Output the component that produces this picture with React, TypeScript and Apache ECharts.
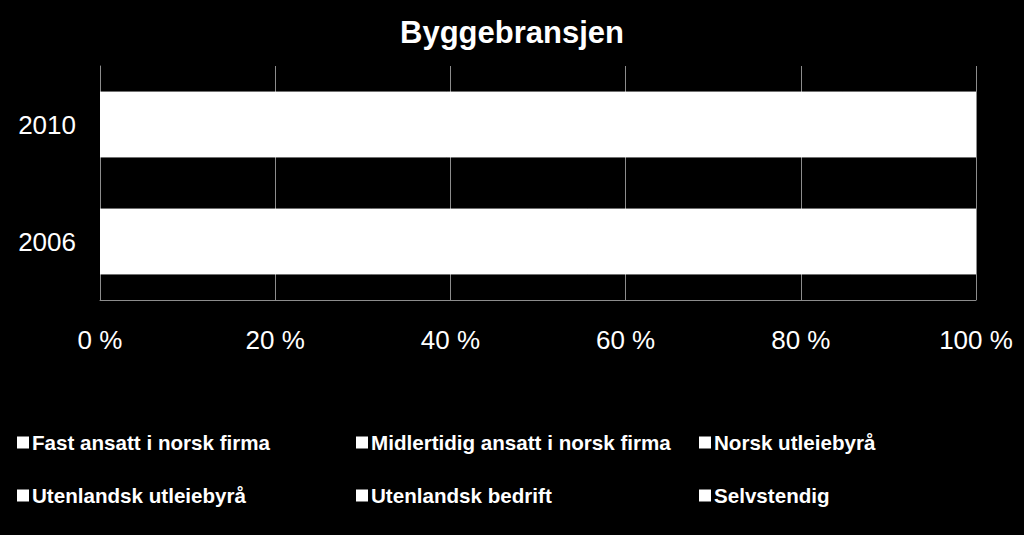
import React, { useEffect, useRef } from "react";
import * as echarts from "echarts";

const categories = ["2006", "2010"];
const seriesNames = [
  "Fast ansatt i norsk firma",
  "Midlertidig ansatt i norsk firma",
  "Norsk utleiebyrå",
  "Utenlandsk utleiebyrå",
  "Utenlandsk bedrift",
  "Selvstendig",
];
// values per series: [2006, 2010]
const fastAnsatt = [31.0, 39.6];
const midlertidig = [24.7, 20.2];
const norskUtleie = [20.0, 15.0];
const utenlandskUtleie = [10.0, 10.0];
const utenlandskBedrift = [9.0, 10.0];
const selvstendig = [5.3, 5.2];
const seriesValues = [fastAnsatt, midlertidig, norskUtleie, utenlandskUtleie, utenlandskBedrift, selvstendig];
const xTicks = { min: 0, max: 100, interval: 20 };

const legendPos = [
  { left: 17, top: 432 },
  { left: 356, top: 432 },
  { left: 699, top: 432 },
  { left: 17, top: 485 },
  { left: 356, top: 485 },
  { left: 699, top: 485 },
];

export default function App() {
  const ref = useRef<HTMLDivElement>(null);
  useEffect(() => {
    if (!ref.current) return;
    const chart = echarts.init(ref.current, undefined, { renderer: "svg" });
    const font = "'Liberation Sans', Arial, sans-serif";
    const totals = categories.map((_, ci) =>
      seriesValues.reduce((s, arr) => s + arr[ci], 0)
    );
    chart.setOption({
      animation: false,
      backgroundColor: "#000000",
      title: {
        text: "Byggebransjen",
        left: "center",
        top: 12,
        textStyle: { color: "#ffffff", fontSize: 31, fontWeight: "bold", fontFamily: font },
      },
      legend: seriesNames.map((n, i) => ({
        data: [{ name: n, icon: "rect" }],
        left: legendPos[i].left,
        top: legendPos[i].top,
        itemWidth: 12,
        itemHeight: 12,
        padding: 0,
        selectedMode: false,
        textStyle: { color: "#ffffff", fontSize: 20.6, fontWeight: "bold", fontFamily: font, padding: [0, 0, 0, -2] },
      })),
      grid: { left: 100, right: 48, top: 66, bottom: 235, containLabel: false },
      xAxis: {
        type: "value",
        min: xTicks.min,
        max: xTicks.max,
        interval: xTicks.interval,
        axisLabel: {
          formatter: "{value} %",
          color: "#ffffff",
          fontSize: 26,
          fontFamily: font,
          margin: 27,
        },
        axisLine: { show: true, lineStyle: { color: "#8c8c8c", width: 1 } },
        axisTick: { show: false },
        splitLine: { show: true, lineStyle: { color: "#8c8c8c", width: 1 } },
      },
      yAxis: {
        type: "category",
        data: categories,
        axisLabel: { color: "#ffffff", fontSize: 26, fontFamily: font, margin: 24 },
        axisLine: { show: true, lineStyle: { color: "#8c8c8c", width: 1 } },
        axisTick: { show: false },
        splitLine: { show: false },
      },
      series: [
        {
          name: "__total",
          type: "bar",
          data: totals,
          barWidth: "56%",
          barGap: "-100%",
          z: 1,
          silent: true,
          itemStyle: { color: "#ffffff" },
        },
        ...seriesNames.map((n, i) => ({
          name: n,
          type: "bar",
          stack: "total",
          data: seriesValues[i],
          barWidth: "56%",
          barGap: "-100%",
          z: 2,
          itemStyle: { color: "#ffffff" },
        })),
      ],
    });
    return () => chart.dispose();
  }, []);
  return (
    <div
      ref={ref}
      style={{ position: "fixed", left: 0, top: 0, width: 1024, height: 535 }}
    />
  );
}
